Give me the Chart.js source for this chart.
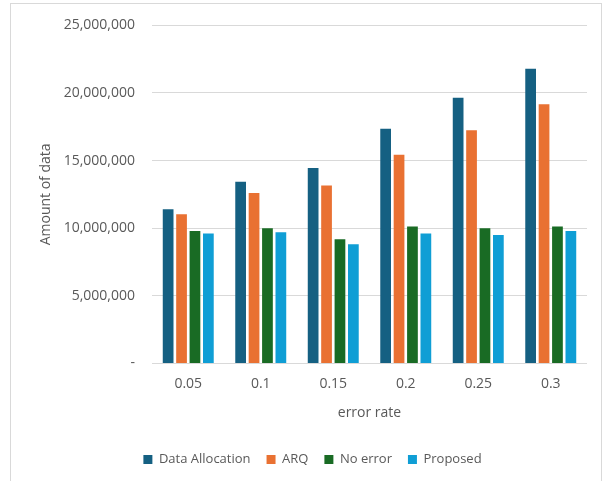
<!DOCTYPE html>
<html>
<head>
<meta charset="utf-8">
<script src="https://cdn.jsdelivr.net/npm/chart.js@4"></script>
<style>
  html, body { margin: 0; padding: 0; background: #fff; }
  #wrap { position: relative; width: 605px; height: 481px; }
  #frame { position: absolute; left: 10px; top: 3px; width: 592px; height: 500px; border: 1px solid #d9d9d9; box-sizing: border-box; }
  canvas { position: absolute; left: 0; top: 0; }
</style>
</head>
<body>
<div id="wrap">
  <div id="frame"></div>
  <canvas id="chart" width="605" height="481"></canvas>
</div>
<script>
const errorRates = ["0.05", "0.1", "0.15", "0.2", "0.25", "0.3"];
const dataAllocation = [11400000, 13430000, 14450000, 17350000, 19650000, 21790000];
const arq = [11030000, 12600000, 13160000, 15440000, 17250000, 19160000];
const noError = [9800000, 10000000, 9190000, 10120000, 10000000, 10120000];
const proposed = [9600000, 9700000, 8820000, 9600000, 9500000, 9800000];
const yTicks = [0, 5000000, 10000000, 15000000, 20000000, 25000000];

const textColor = "#595959";
const fontFamily = "'Open Sans', Lato, sans-serif";

function series(label, data, color) {
  return {
    label: label,
    data: data,
    backgroundColor: color,
    borderWidth: 0,
    categoryPercentage: 0.74,
    barPercentage: 0.8
  };
}

new Chart(document.getElementById("chart").getContext("2d"), {
  type: "bar",
  data: {
    labels: errorRates,
    datasets: [
      series("Data Allocation", dataAllocation, "#156082"),
      series("ARQ", arq, "#E97132"),
      series("No error", noError, "#196B24"),
      series("Proposed", proposed, "#0F9ED5")
    ]
  },
  options: {
    responsive: false,
    animation: false,
    layout: { padding: { left: 38, right: 18, top: 16, bottom: 5 } },
    plugins: {
      tooltip: { enabled: false },
      legend: {
        position: "bottom",
        labels: {
          boxWidth: 9,
          boxHeight: 9,
          padding: 16,
          color: textColor,
          font: { family: fontFamily, size: 13 }
        }
      }
    },
    scales: {
      x: {
        grid: { display: false, drawTicks: false },
        border: { display: false },
        ticks: { color: textColor, font: { family: fontFamily, size: 14 }, padding: 12 },
        title: {
          display: true,
          text: "error rate",
          color: textColor,
          font: { family: fontFamily, size: 14 },
          padding: { top: 0, bottom: 16 }
        }
      },
      y: {
        min: 0,
        max: 25000000,
        afterBuildTicks: function (scale) {
          scale.ticks = yTicks.map(function (v) { return { value: v }; });
        },
        afterFit: function (scale) { scale.width = 114; },
        grid: { color: "#d9d9d9", lineWidth: 1, drawTicks: false },
        border: { display: false },
        ticks: {
          color: textColor,
          font: { family: fontFamily, size: 14 },
          padding: 17,
          callback: function (v) { return v === 0 ? "-" : v.toLocaleString("en-US"); }
        },
        title: {
          display: true,
          text: "Amount of data",
          color: textColor,
          font: { family: fontFamily, size: 14 },
          padding: { top: 0, bottom: 8 }
        }
      }
    }
  }
});
</script>
</body>
</html>
